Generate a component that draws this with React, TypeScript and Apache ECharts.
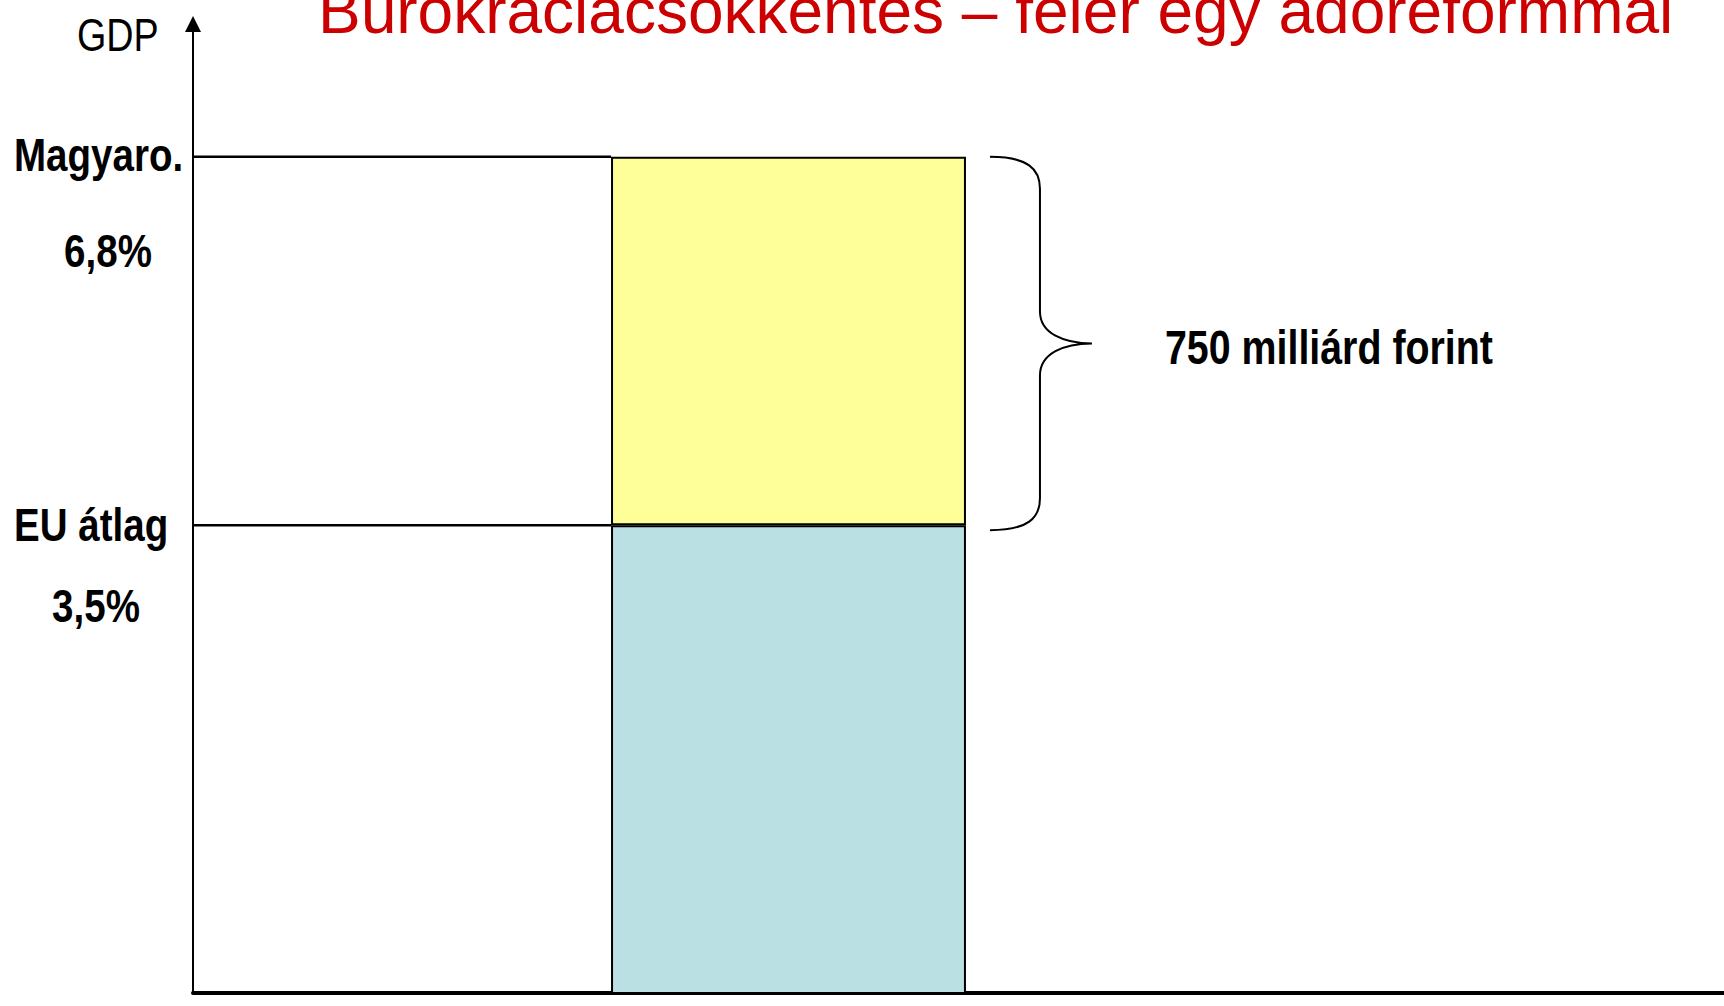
import React, { useEffect, useRef } from "react";
import * as echarts from "echarts";

// ---- data ----
const categories = ["", "Magyarország", "", ""];
const euAverage = [null, 3.5, null, null]; // EU átlag, % of GDP
const excess = [null, 3.3, null, null]; // 6,8% - 3,5%
const levelValues = [6.8, 3.5];
const levelNames = ["Magyaro.", "EU átlag"];
const levelLabels = ["6,8%", "3,5%"];
const braceText = "750 milliárd forint";
const titleText = "Bürokráciacsökkentés – felér egy adóreformmal";
const axisName = "GDP";

const BAR_RATIO = 0.894;
const FONT = "'Liberation Sans', Arial, Helvetica, sans-serif";
const NARROW = 0.82;

export default function App() {
  const ref = useRef<HTMLDivElement>(null);

  useEffect(() => {
    if (!ref.current) return;
    const chart = echarts.init(ref.current, undefined, { renderer: "svg" });

    const option: any = {
      animation: false,
      backgroundColor: "#ffffff",
      grid: {
        left: 193,
        width: 1588,
        top: 24,
        bottom: 13,
        containLabel: false,
        outerBoundsMode: "none",
      },
      xAxis: {
        type: "category",
        data: categories,
        boundaryGap: true,
        axisLine: { show: true, onZero: false, lineStyle: { color: "#000", width: 4 } },
        axisTick: { show: false },
        axisLabel: { show: false },
        splitLine: { show: false },
      },
      yAxis: {
        type: "log",
        logBase: 10,
        min: 1.5053,
        max: 8.641,
        axisLine: {
          show: true,
          symbol: ["none", "triangle"],
          symbolSize: [16, 16],
          lineStyle: { color: "#000", width: 2 },
        },
        axisTick: { show: false },
        axisLabel: { show: false },
        splitLine: { show: false },
      },
      graphic: [
        {
          type: "text",
          x: 318,
          y: 11,
          style: {
            text: titleText,
            fontSize: 64,
            fontFamily: FONT,
            fill: "#cc0000",
            align: "left",
            verticalAlign: "middle",
          },
        },
        {
          type: "text",
          x: 77,
          y: 35,
          scaleX: NARROW,
          style: {
            text: axisName,
            fontSize: 46,
            fontFamily: FONT,
            fill: "#000",
            align: "left",
            verticalAlign: "middle",
          },
        },
        {
          type: "text",
          x: 14,
          y: 155,
          scaleX: NARROW,
          style: { text: levelNames[0], fontSize: 47, fontWeight: "bold", fontFamily: FONT, fill: "#000", align: "left", verticalAlign: "middle" },
        },
        {
          type: "text",
          x: 108,
          y: 251,
          scaleX: NARROW,
          style: { text: levelLabels[0], fontSize: 47, fontWeight: "bold", fontFamily: FONT, fill: "#000", align: "center", verticalAlign: "middle" },
        },
        {
          type: "text",
          x: 14,
          y: 525,
          scaleX: NARROW,
          style: { text: levelNames[1], fontSize: 47, fontWeight: "bold", fontFamily: FONT, fill: "#000", align: "left", verticalAlign: "middle" },
        },
        {
          type: "text",
          x: 96,
          y: 606,
          scaleX: NARROW,
          style: { text: levelLabels[1], fontSize: 47, fontWeight: "bold", fontFamily: FONT, fill: "#000", align: "center", verticalAlign: "middle" },
        },
      ],
      series: [
        {
          name: "EU átlag",
          type: "bar",
          stack: "gdp",
          clip: true,
          barWidth: BAR_RATIO * 100 + "%",
          data: euAverage,
          itemStyle: { color: "#bbe0e3", borderColor: "#000", borderWidth: 2 },
        },
        {
          name: "Többlet",
          type: "bar",
          stack: "gdp",
          clip: true,
          barWidth: BAR_RATIO * 100 + "%",
          data: excess,
          itemStyle: { color: "#ffff99", borderColor: "#000", borderWidth: 2 },
        },
        {
          name: "Szintek",
          type: "custom",
          data: levelValues.map((v) => [1, v]),
          renderItem: (params: any, api: any) => {
            const pt = api.coord([api.value(0), api.value(1)]);
            const bw = api.size([1, 0])[0] * BAR_RATIO;
            const x0 = params.coordSys.x;
            return {
              type: "line",
              shape: { x1: x0, y1: pt[1], x2: pt[0] - bw / 2, y2: pt[1] },
              style: { stroke: "#000", lineWidth: 2.5 },
            };
          },
        },
        {
          name: "Különbség",
          type: "custom",
          data: [[1, levelValues[1], levelValues[0]]],
          renderItem: (params: any, api: any) => {
            const top = api.coord([api.value(0), api.value(2)]);
            const bot = api.coord([api.value(0), api.value(1)]);
            const bw = api.size([1, 0])[0] * BAR_RATIO;
            const tipX = top[0] + bw / 2 + 24;
            const spX = tipX + 50;
            const midX = spX + 52;
            const y0 = top[1];
            const y1 = bot[1] + 5;
            const ym = (y0 + y1) / 2;
            const d =
              `M${tipX},${y0} C${tipX + 38},${y0} ${spX},${y0 + 12} ${spX},${y0 + 32} ` +
              `L${spX},${ym - 32} C${spX},${ym - 10} ${spX + 24},${ym} ${midX},${ym} ` +
              `C${spX + 24},${ym} ${spX},${ym + 10} ${spX},${ym + 32} ` +
              `L${spX},${y1 - 32} C${spX},${y1 - 12} ${tipX + 38},${y1} ${tipX},${y1}`;
            return {
              type: "group",
              children: [
                {
                  type: "path",
                  shape: { pathData: d },
                  style: { fill: "none", stroke: "#000", lineWidth: 2 },
                },
                {
                  type: "text",
                  x: midX + 73,
                  y: ym + 4,
                  scaleX: NARROW,
                  style: {
                    text: braceText,
                    fontSize: 48,
                    fontWeight: "bold",
                    fontFamily: FONT,
                    fill: "#000",
                    align: "left",
                    verticalAlign: "middle",
                  },
                },
              ],
            };
          },
        },
      ],
    };

    chart.setOption(option);
    return () => chart.dispose();
  }, []);

  return (
    <div
      ref={ref}
      style={{ position: "absolute", left: 0, top: 0, width: 1724, height: 1006, background: "#fff" }}
    />
  );
}
